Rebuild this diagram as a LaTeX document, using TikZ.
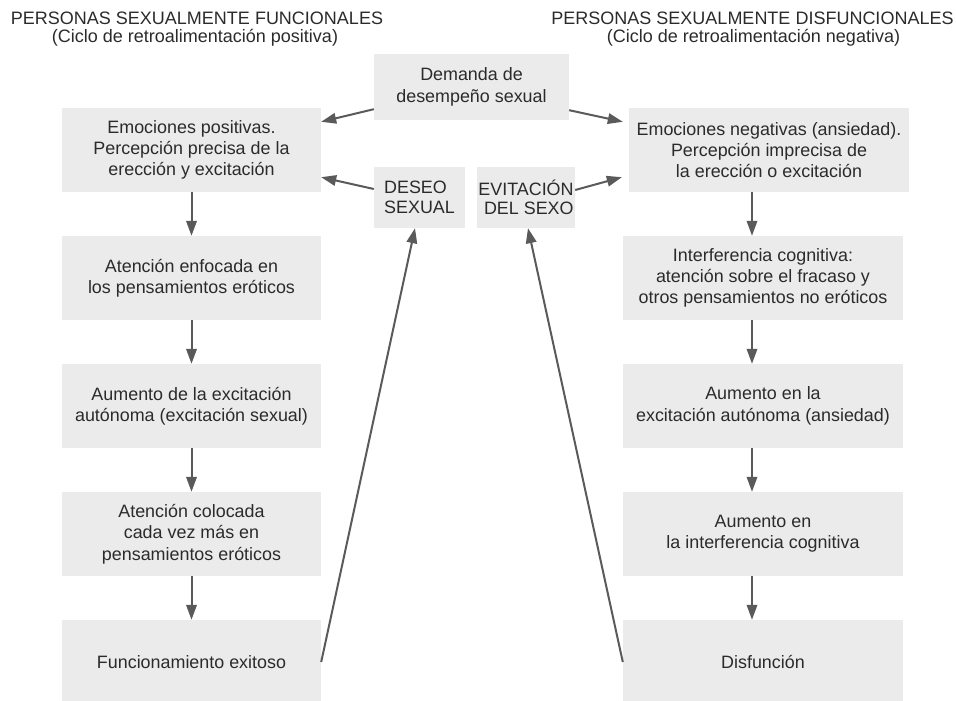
\documentclass[tikz,border=0pt]{standalone}
\usepackage{fontspec}
\setmainfont{Liberation Sans}
\usetikzlibrary{arrows.meta,calc}
\definecolor{boxgray}{HTML}{EBEBEB}
\definecolor{txt}{HTML}{2B2B2B}
\definecolor{arr}{HTML}{5A5A5A}
\begin{document}
\begin{tikzpicture}[x=1pt,y=-1pt,
  box/.style={fill=boxgray, inner sep=0pt, align=center, text=txt,
    font=\fontsize{17.9}{21.3}\selectfont},
  lbox/.style={box, minimum width=259pt, minimum height=84pt},
  rbox/.style={box, minimum width=280pt, minimum height=84pt},
  hdr/.style={inner sep=0pt, text=txt, anchor=base, font=\fontsize{18}{18}\selectfont},
  conn/.style={draw=arr, line width=2pt, -{Triangle[length=15pt,width=10.5pt]}}]
\useasboundingbox (0,0) rectangle (956,701);

% headers
\node[hdr] (hl1) at (197,25) {PERSONAS SEXUALMENTE FUNCIONALES};
\node[hdr] (hl2) at (195,42.7) {(Ciclo de retroalimentación positiva)};
\node[hdr] (hr1) at (752.5,25) {PERSONAS SEXUALMENTE DISFUNCIONALES};
\node[hdr] (hr2) at (753.5,42.7) {(Ciclo de retroalimentación negativa)};

% centre boxes
\node[box, minimum width=195pt, minimum height=66pt] (dem) at (471.5,87) {Demanda de\\desempeño sexual};
\node[box, minimum width=91pt, minimum height=61pt, align=left,
  font=\fontsize{17.9}{19.6}\selectfont] (des) at (419.5,197.5) {DESEO\\SEXUAL};
\node[box, minimum width=98pt, minimum height=61pt, align=right,
  font=\fontsize{17.9}{19.6}\selectfont] (evi) at (526,197.5) {EVITACIÓN\\DEL SEXO};

% left column
\node[lbox] (l1) at (191.5,150) {Emociones positivas.\\Percepción precisa de la\\erección y excitación};
\node[lbox] (l2) at (191.5,278) {Atención enfocada en\\los pensamientos eróticos};
\node[lbox] (l3) at (191.5,406) {Aumento de la excitación\\autónoma (excitación sexual)};
\node[lbox] (l4) at (191.5,534) {Atención colocada\\cada vez más en\\pensamientos eróticos};
\node[lbox] (l5) at (191.5,662) {Funcionamiento exitoso};

% right column
\node[rbox] (r1) at (769,150) {Emociones negativas (ansiedad).\\Percepción imprecisa de\\la erección o excitación};
\node[rbox] (r2) at (763,278) {Interferencia cognitiva:\\atención sobre el fracaso y\\otros pensamientos no eróticos};
\node[rbox] (r3) at (763,406) {Aumento en la\\excitación autónoma (ansiedad)};
\node[rbox] (r4) at (763,534) {Aumento en\\la interferencia cognitiva};
\node[rbox] (r5) at (763,662) {Disfunción};

% vertical arrows
\draw[conn] (l1.south) -- (l2.north);
\draw[conn] (l2.south) -- (l3.north);
\draw[conn] (l3.south) -- (l4.north);
\draw[conn] (l4.south) -- (l5.north);
\coordinate (ax) at (752,0);
\draw[conn] (r1.south -| ax) -- (r2.north -| ax);
\draw[conn] (r2.south -| ax) -- (r3.north -| ax);
\draw[conn] (r3.south -| ax) -- (r4.north -| ax);
\draw[conn] (r4.south -| ax) -- (r5.north -| ax);

% demand arrows
\draw[conn] ($(dem.south west)+(0,-11)$) -- ($(l1.north east)+(0,14)$);
\draw[conn] ($(dem.south east)+(0,-10)$) -- ($(r1.north west)+(-6,14)$);

% desire / avoidance arrows
\draw[conn] ($(des.west)+(0,-8.5)$) -- ($(l1.south east)+(0,-15)$);
\draw[conn] ($(evi.east)+(0,-7.5)$) -- ($(r1.south west)+(-7,-15)$);

% long feedback arrows
\draw[conn] (l5.east) -- ($(des.south)+(-4.5,0)$);
\draw[conn] (r5.west) -- ($(evi.south)+(2,0)$);
\end{tikzpicture}
\end{document}
